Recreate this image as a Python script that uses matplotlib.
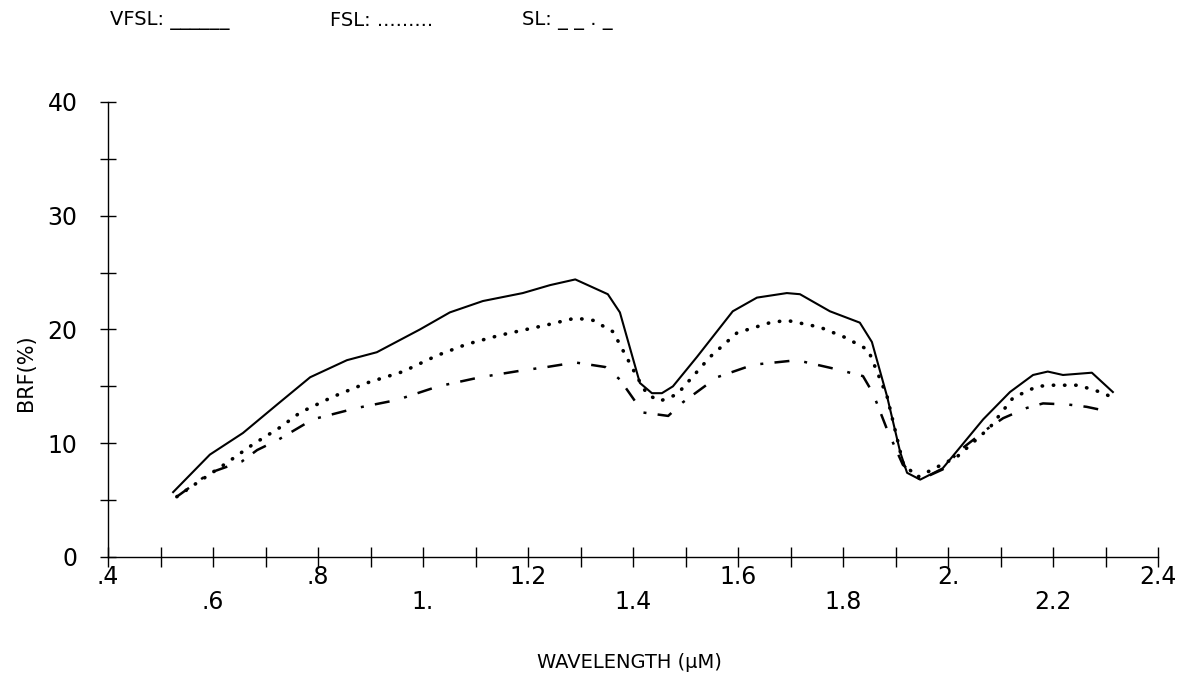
import numpy as np
import matplotlib
matplotlib.use("Agg")
import matplotlib.pyplot as plt

vfsl_x = [0.524, 0.594, 0.657, 0.722, 0.785, 0.855, 0.912, 0.994, 1.051, 1.114, 1.19, 1.242,
          1.29, 1.352, 1.375, 1.413, 1.436, 1.455, 1.476, 1.522, 1.59, 1.636, 1.693, 1.718,
          1.775, 1.832, 1.855, 1.884, 1.909, 1.922, 1.947, 1.99, 2.067, 2.118, 2.162, 2.19,
          2.219, 2.274, 2.314]
vfsl_y = [5.7, 9.0, 10.9, 13.4, 15.8, 17.3, 18.0, 20.0, 21.5, 22.5, 23.2, 23.9,
          24.4, 23.1, 21.5, 15.3, 14.4, 14.4, 15.0, 17.6, 21.6, 22.8, 23.2, 23.1,
          21.6, 20.6, 18.9, 14.1, 9.2, 7.4, 6.8, 7.8, 12.1, 14.5, 16.0, 16.3,
          16.0, 16.2, 14.5]

fsl_x = [0.531, 0.569, 0.627, 0.676, 0.728, 0.766, 0.829, 0.893, 0.962, 1.026, 1.083, 1.147,
         1.236, 1.29, 1.324, 1.362, 1.408, 1.427, 1.451, 1.484, 1.547, 1.598, 1.661, 1.693,
         1.756, 1.804, 1.848, 1.884, 1.914, 1.941, 2.017, 2.08, 2.124, 2.17, 2.2, 2.248,
         2.29, 2.31]
fsl_y = [5.3, 6.5, 8.3, 9.9, 11.4, 12.7, 14.1, 15.3, 16.3, 17.7, 18.7, 19.5,
         20.4, 21.0, 20.8, 19.8, 15.8, 14.3, 13.7, 14.3, 17.6, 19.7, 20.6, 20.8,
         20.2, 19.3, 18.2, 14.1, 8.3, 7.0, 8.8, 11.4, 14.0, 15.0, 15.1, 15.1,
         14.5, 14.1]

sl_x = [0.531, 0.594, 0.655, 0.684, 0.724, 0.79, 0.874, 0.95, 1.029, 1.109, 1.189, 1.236,
        1.29, 1.347, 1.375, 1.419, 1.467, 1.495, 1.56, 1.629, 1.712, 1.788, 1.838, 1.857,
        1.884, 1.914, 1.947, 1.99, 2.023, 2.076, 2.105, 2.15, 2.181, 2.229, 2.264, 2.305]
sl_y = [5.3, 7.4, 8.4, 9.4, 10.3, 12.1, 13.1, 13.8, 15.0, 15.8, 16.4, 16.7,
        17.1, 16.7, 15.6, 12.7, 12.4, 13.6, 15.8, 16.9, 17.3, 16.5, 15.9, 14.4,
        11.2, 8.1, 6.8, 7.7, 9.4, 11.3, 12.2, 13.1, 13.5, 13.4, 13.2, 12.8]

x_label_vals = [0.4, 0.6, 0.8, 1.0, 1.2, 1.4, 1.6, 1.8, 2.0, 2.2, 2.4]
x_label_text = [".4", ".6", ".8", "1.", "1.2", "1.4", "1.6", "1.8", "2.", "2.2", "2.4"]
y_label_vals = [0, 10, 20, 30, 40]

fig = plt.figure(figsize=(11.86, 6.78), dpi=100)
ax = fig.add_axes([0.0911, 0.1785, 0.8853, 0.6711])

ax.plot(vfsl_x, vfsl_y, color="black", lw=1.5, solid_joinstyle="round")
ax.plot(fsl_x, fsl_y, color="black", lw=2.6, linestyle=(0, (0.1, 3.0)),
        dash_capstyle="round")
ax.plot(sl_x, sl_y, color="black", lw=1.8, linestyle=(0, (6, 6, 1.2, 4.5)))

ax.set_xlim(0.4, 2.4)
ax.set_ylim(0, 40)
for s in ["top", "right"]:
    ax.spines[s].set_visible(False)
for s in ["left", "bottom"]:
    ax.spines[s].set_linewidth(1.0)

# x ticks every 0.1, labels drawn below in two staggered rows
ax.set_xticks(np.arange(0.4, 2.41, 0.1))
ax.set_xticklabels([])
ax.tick_params(axis="x", direction="inout", length=14, width=1.0)

ax.set_yticks(np.arange(0, 41, 5))
ax.set_yticklabels([str(v) if v in y_label_vals else "" for v in range(0, 41, 5)])
ax.tick_params(axis="y", direction="inout", length=12, width=1.0, pad=16, labelsize=17)
for lbl in ax.get_yticklabels():
    lbl.set_verticalalignment("center_baseline")

for i, (v, t) in enumerate(zip(x_label_vals, x_label_text)):
    ypos = -0.045 if i % 2 == 0 else -0.10
    ax.text(v, ypos, t, transform=ax.get_xaxis_transform(), ha="center", va="center",
            fontsize=17)

fig.text(0.531, 0.023, "WAVELENGTH (μM)", ha="center", va="center", fontsize=14)
fig.text(0.022, 0.451, "BRF(%)", ha="center", va="center", rotation=90, fontsize=15)

# legend line at the top, as in the plotter output
fig.text(0.093, 0.97, "VFSL: ______", ha="left", va="center", fontsize=14)
fig.text(0.278, 0.97, "FSL: .........", ha="left", va="center", fontsize=14)
fig.text(0.44, 0.97, "SL: _ _ . _", ha="left", va="center", fontsize=14)

fig.savefig("out.png", dpi=100, facecolor="white")
